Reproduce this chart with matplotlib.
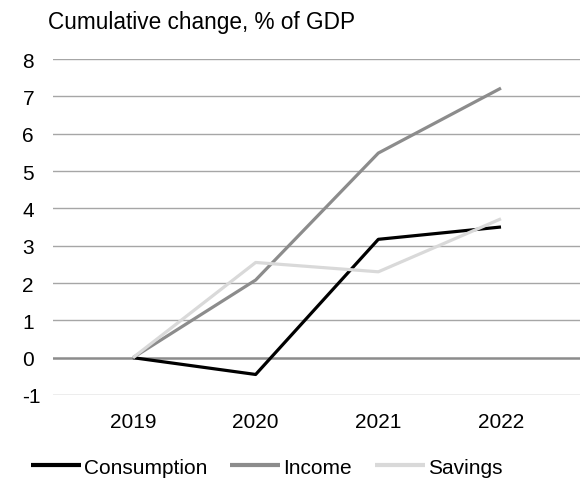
import matplotlib.pyplot as plt
import numpy as np

plt.rcParams['font.family'] = ['Liberation Sans', 'DejaVu Sans']
plt.rcParams['axes.unicode_minus'] = False

years = ["2019", "2020", "2021", "2022"]
consumption = [0, -0.45, 3.17, 3.5]
income = [0, 2.08, 5.48, 7.22]
savings = [0, 2.55, 2.3, 3.72]

fig = plt.figure(figsize=(5.8, 4.81), dpi=100)
ax = fig.add_axes([53 / 580, (481 - 396) / 481, 1 - 53 / 580, (396 - 60) / 481])

x = np.arange(len(years))
ax.plot(x, consumption, color="black", lw=2.3, label="Consumption", solid_capstyle="butt")
ax.plot(x, income, color="#8c8c8c", lw=2.3, label="Income", solid_capstyle="butt")
ax.plot(x, savings, color="#d9d9d9", lw=2.3, label="Savings", solid_capstyle="butt")

# grid
for v in range(-1, 9):
    if v == 0:
        ax.axhline(0, color="#8c8c8c", lw=1.8, zorder=0)
    else:
        ax.axhline(v, color="#a6a6a6", lw=1.0, zorder=0)

ax.set_ylim(-1, 8)
ax.set_xlim(-0.652, 3.644)
ax.set_yticks(range(-1, 9))
ax.set_xticks(x)
ax.set_xticklabels(years)
ax.tick_params(length=0, labelsize=15, colors="black")
ax.tick_params(axis="y", pad=22)
ax.tick_params(axis="x", pad=12)
for lbl in ax.get_yticklabels():
    lbl.set_horizontalalignment("left")
for s in ax.spines.values():
    s.set_visible(False)

fig.text(48 / 580, 1 - 22 / 481, "Cumulative change, % of GDP", fontsize=16.3,
         va="center", ha="left")

leg = fig.legend(loc="center", bbox_to_anchor=(0.46, 1 - 468 / 481), ncol=3, frameon=False,
                 fontsize=15, handlelength=2.4, handletextpad=0.15, columnspacing=1.1)
for h in leg.get_lines():
    h.set_linewidth(3)

fig.savefig("out.png", dpi=100)
